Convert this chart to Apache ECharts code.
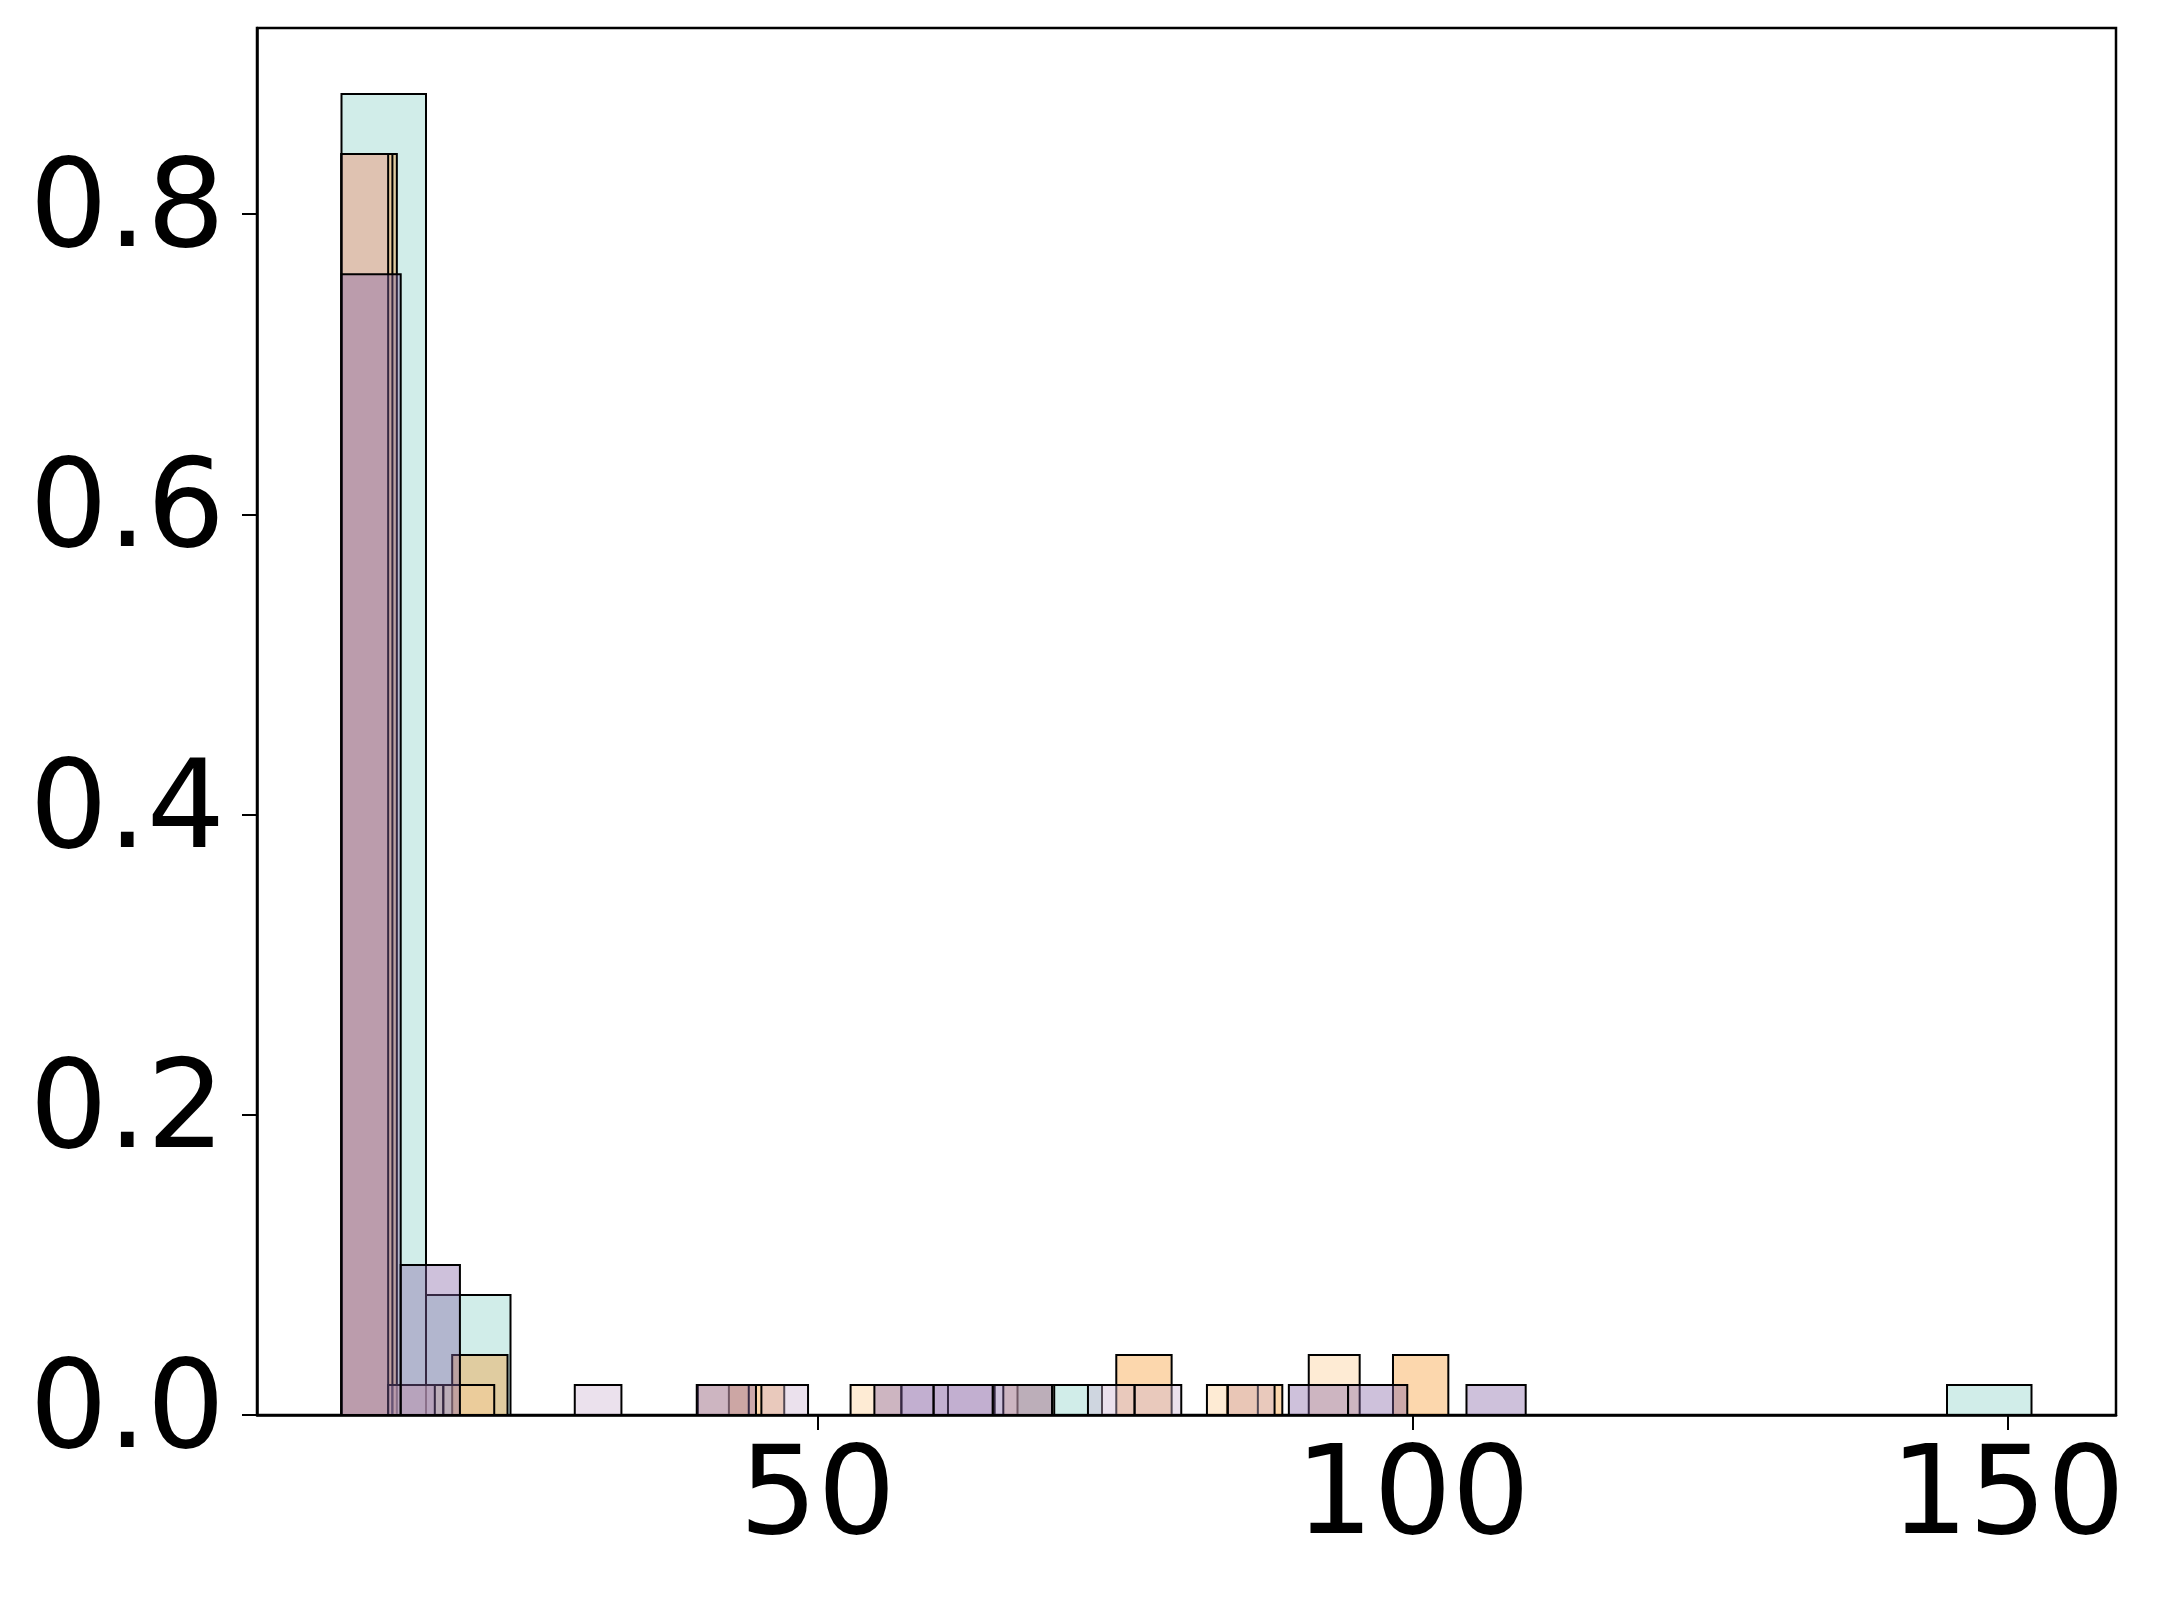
<!DOCTYPE html>
<html>
<head>
<meta charset="utf-8">
<script src="https://cdn.jsdelivr.net/npm/echarts@6/dist/echarts.min.js"></script>
<style>
  html, body { margin: 0; padding: 0; background: #fff; }
  #chart { width: 2159px; height: 1597px; }
</style>
</head>
<body>
<div id="chart"></div>
<script>
// five overlapping histograms, 20 bins each, heights are fractions of samples
const binCount = 20;

const tealRange = [10, 152.0];
const tealHeights = [0.88, 0.08, 0, 0, 0, 0, 0, 0, 0.02, 0, 0, 0, 0, 0, 0, 0, 0, 0, 0, 0.02];

const purpleRange = [10, 109.5];
const purpleHeights = [0.76, 0.10, 0, 0, 0, 0, 0.02, 0, 0, 0.02, 0.02, 0.02, 0, 0, 0, 0, 0.02, 0.02, 0, 0.02];

const lilacRange = [10, 88.4];
const lilacHeights = [0.84, 0.02, 0, 0, 0, 0.02, 0, 0, 0, 0.02, 0, 0, 0.02, 0.02, 0, 0, 0.02, 0.02, 0, 0.02];

const peachRange = [10, 95.55];
const peachHeights = [0.84, 0.02, 0.02, 0, 0, 0, 0, 0.02, 0, 0, 0.02, 0, 0, 0.02, 0, 0, 0, 0.02, 0, 0.04];

const orangeRange = [10, 103.0];
const orangeHeights = [0.84, 0, 0.04, 0, 0, 0, 0, 0.02, 0, 0, 0, 0, 0, 0, 0.04, 0, 0.02, 0, 0, 0.04];

const yTicks = [0, 0.2, 0.4, 0.6, 0.8];
const xTicks = [50, 100, 150];

// turn heights into [left, right, height] rows
function bins(range, heights) {
  const w = (range[1] - range[0]) / binCount;
  const rows = [];
  heights.forEach((h, i) => {
    if (h > 0) rows.push([range[0] + i * w, range[0] + (i + 1) * w, h]);
  });
  return rows;
}

function histSeries(name, range, heights, fill) {
  return {
    name: name,
    type: 'custom',
    clip: true,
    encode: { x: [0, 1], y: 2 },
    data: bins(range, heights),
    renderItem: function (params, api) {
      const p0 = api.coord([api.value(0), api.value(2)]);
      const p1 = api.coord([api.value(1), 0]);
      return {
        type: 'rect',
        shape: { x: p0[0], y: p0[1], width: p1[0] - p0[0], height: p1[1] - p0[1] },
        style: { fill: fill, stroke: '#000', lineWidth: 2 }
      };
    }
  };
}

const chart = echarts.init(document.getElementById('chart'));

const option = {
  animation: false,
  backgroundColor: '#fff',
  grid: {
    left: 257, right: 43, top: 28, bottom: 182,
    show: true, borderColor: '#000', borderWidth: 2.5
  },
  xAxis: {
    type: 'value',
    min: 2.9, max: 159.1,
    splitLine: { show: false },
    axisLine: { show: true, lineStyle: { color: '#000', width: 2.5 } },
    axisTick: { show: true, length: 15, customValues: xTicks, lineStyle: { color: '#000', width: 2 } },
    axisLabel: {
      customValues: xTicks, margin: 25,
      color: '#000', fontFamily: 'DejaVu Sans', fontSize: 123
    }
  },
  yAxis: {
    type: 'value',
    min: 0, max: 0.924,
    splitLine: { show: false },
    axisLine: { show: true, lineStyle: { color: '#000', width: 2.5 } },
    axisTick: { show: true, length: 15, customValues: yTicks, lineStyle: { color: '#000', width: 2 } },
    axisLabel: {
      customValues: yTicks, margin: 32,
      color: '#000', fontFamily: 'DejaVu Sans', fontSize: 123,
      formatter: v => v.toFixed(1)
    }
  },
  series: [
    histSeries('teal', tealRange, tealHeights, 'rgba(141,211,199,0.4)'),
    histSeries('orange', orangeRange, orangeHeights, 'rgba(248,155,50,0.4)'),
    histSeries('peach', peachRange, peachHeights, 'rgba(253,205,148,0.4)'),
    histSeries('lilac', lilacRange, lilacHeights, 'rgba(205,180,210,0.4)'),
    histSeries('purple', purpleRange, purpleHeights, 'rgba(133,100,165,0.4)')
  ]
};

chart.setOption(option);
</script>
</body>
</html>
